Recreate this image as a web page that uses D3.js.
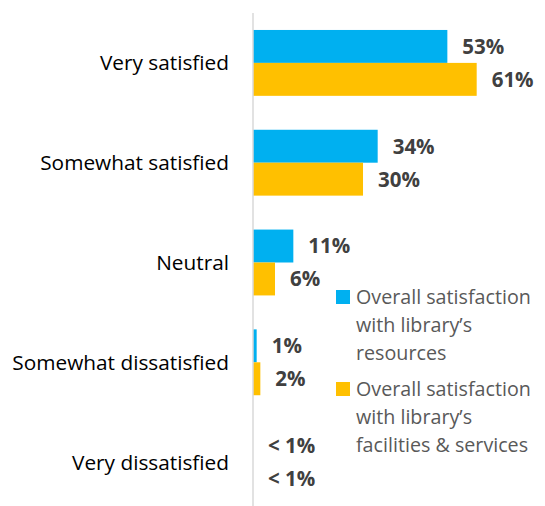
<!DOCTYPE html>
<html><head><meta charset="utf-8">
<script src="https://cdn.jsdelivr.net/npm/d3@7"></script>
<style>body{margin:0;background:#fff}svg{display:block}</style>
</head><body>
<script>
const categories = ["Very satisfied","Somewhat satisfied","Neutral","Somewhat dissatisfied","Very dissatisfied"];
const seriesNames = ["Overall satisfaction with library’s resources","Overall satisfaction with library’s facilities & services"];
const legendLines = [["Overall satisfaction","with library’s","resources"],["Overall satisfaction","with library’s","facilities & services"]];
const resources = [53, 34, 11, 1, 0];
const facilities = [61, 30, 6, 2, 0];
const resourcesLabels = ["53%","34%","11%","1%","< 1%"];
const facilitiesLabels = ["61%","30%","6%","2%","< 1%"];
const colors = ["#00B0F0","#FFC000"];

const W = 545, H = 506;
const svg = d3.select("body").append("svg").attr("width", W).attr("height", H);

const y = d3.scaleBand().domain(categories).range([13, 512]).paddingInner(0.34).paddingOuter(0.17);
const ys = d3.scaleBand().domain([0,1]).range([0, y.bandwidth()]);
const x = d3.scaleLinear().domain([0, 100]).range([253, 253 + 366.7]);

const rows = categories.map((c,i)=>({cat:c, vals:[resources[i], facilities[i]], labels:[resourcesLabels[i], facilitiesLabels[i]]}));

const g = svg.append("g");
rows.forEach(r=>{
  r.vals.forEach((v,s)=>{
    const yy = y(r.cat) + ys(s);
    g.append("rect").attr("x", x(0)).attr("y", yy).attr("width", x(v)-x(0)).attr("height", ys.bandwidth()).attr("fill", colors[s]);
    g.append("text").attr("x", x(v) + 15).attr("y", yy + ys.bandwidth()/2).attr("dy","0.36em")
      .attr("font-family","'Open Sans', sans-serif").attr("font-weight","bold").attr("font-size",20.5)
      .attr("fill","#404040").text(r.labels[s]);
  });
});

// category axis
const axis = d3.axisLeft(y).tickSize(0).tickPadding(24);
const ax = svg.append("g").attr("transform", `translate(${x(0)},0)`).call(axis);
ax.select(".domain").remove();
ax.selectAll("text").attr("font-family","'Open Sans', sans-serif").attr("font-size",20.8).attr("fill","#000").attr("dy","0.36em");
svg.append("line").attr("x1", x(0)).attr("x2", x(0)).attr("y1", 13).attr("y2", H).attr("stroke","#d9d9d9").attr("stroke-width",1.5);

// legend
const leg = svg.append("g");
const legTop = [297, 389];
legendLines.forEach((lines,s)=>{
  leg.append("rect").attr("x",336).attr("y",legTop[s]-7).attr("width",14).attr("height",14).attr("fill",colors[s]);
  lines.forEach((t,j)=>{
    leg.append("text").attr("x",356).attr("y",legTop[s] + j*28).attr("dy","0.36em")
      .attr("font-family","'Open Sans', sans-serif").attr("font-size",19.7).attr("fill","#595959").text(t);
  });
});
</script>
</body></html>
